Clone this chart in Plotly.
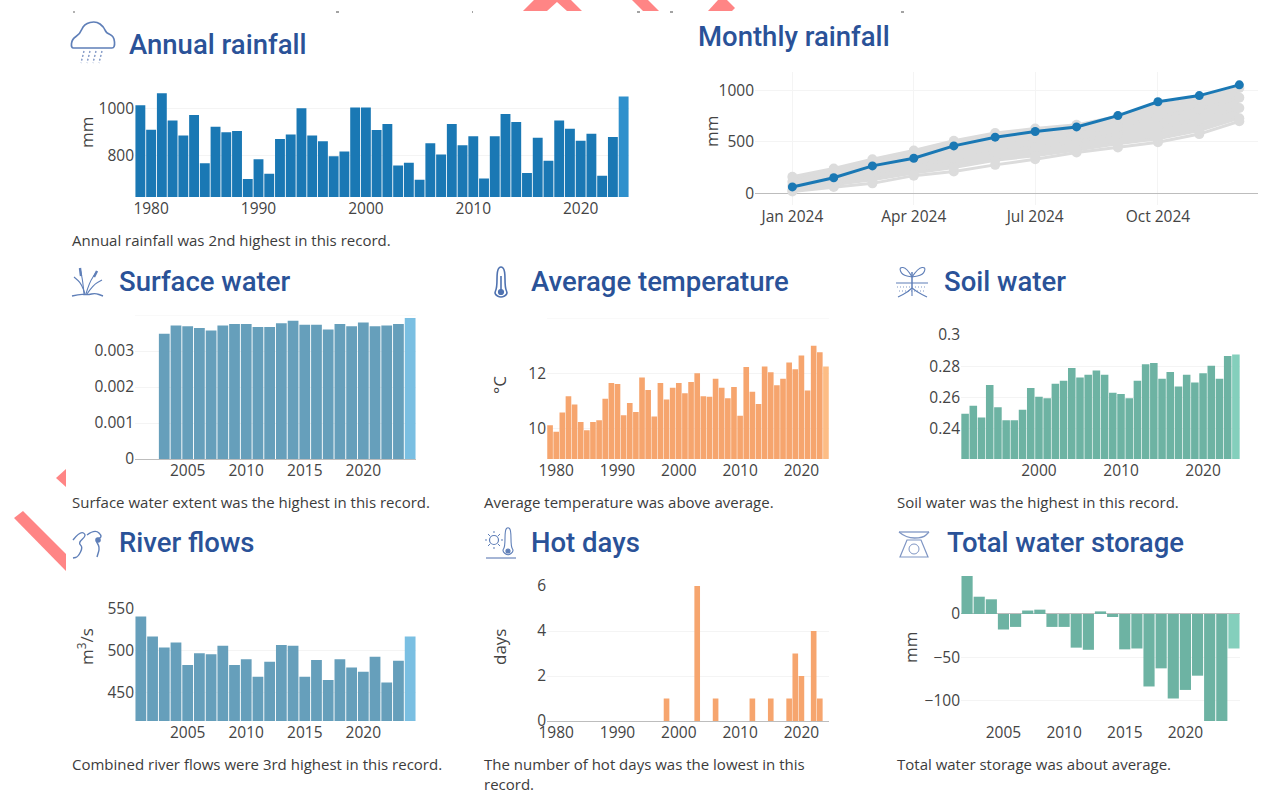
import plotly.graph_objects as go

W, H = 1263, 796

years_annual = list(range(1979, 2025))
annual_rain = [1013,909,1064,948,884,972,766,922,898,904,699,783,722,870,889,1000,884,860,796,816,1003,1003,908,933,757,769,696,851,804,933,843,881,702,881,976,942,725,875,777,948,913,862,892,713,878,1050]

months = ["2024-01-01","2024-02-01","2024-03-01","2024-04-01","2024-05-01","2024-06-01","2024-07-01","2024-08-01","2024-09-01","2024-10-01","2024-11-01","2024-12-01"]
monthly_2024 = [60,150,265,340,460,545,600,645,755,890,950,1055]
monthly_high = [160,240,330,415,510,585,630,665,750,860,930,1025]
monthly_mid_a = [110,190,270,340,430,490,540,580,650,740,820,930]
monthly_mid_b = [70,130,200,260,340,400,450,500,580,640,720,830]
monthly_low_b = [30,80,130,195,250,320,365,420,480,530,610,730]
monthly_low = [15,60,95,170,210,275,330,395,445,495,575,700]

years_surface = list(range(2003, 2025))
surface_water = [.00348,.00371,.00369,.00364,.00357,.00371,.00375,.00375,.00367,.00367,.00377,.00384,.00373,.00373,.0036,.00375,.00369,.00379,.00369,.00371,.00375,.00392]

years_temp = list(range(1979, 2025))
avg_temp = [10.11,9.87,10.57,11.16,10.86,10.22,9.92,10.22,10.29,11.07,11.64,11.6,10.47,10.91,10.59,11.84,11.39,10.42,11.64,11.04,11.47,11.64,11.27,11.68,11.99,11.16,11.14,11.79,11.47,11.09,11.49,10.45,12.22,11.32,10.88,12.24,12.03,11.56,11.79,12.38,12.14,12.64,11.37,12.99,12.76,12.24]

years_soil = list(range(1991, 2025))
soil_water = [.2495,.2546,.2471,.2679,.2537,.2454,.2454,.252,.2661,.2604,.2595,.2688,.2707,.2788,.2728,.2745,.2773,.2745,.263,.2621,.2595,.2707,.2812,.282,.272,.2762,.267,.2745,.2695,.2754,.2803,.272,.2866,.2875]

years_river = list(range(2001, 2025))
river_flows = [541,517,504,510,483,497,496,506,483,490,469,487,507,506,469,489,465,490,480,475,493,462,488,517]

years_hot = list(range(1979, 2025))
hot_days = [0,0,0,0,0,0,0,0,0,0,0,0,0,0,0,0,0,0,0,1,0,0,0,0,6,0,0,1,0,0,0,0,0,1,0,0,1,0,0,1,3,2,0,4,1,0]

years_tws = list(range(2002, 2025))
water_storage = [44,20,17,-18,-15,4,5,-15,-15,-39,-41.5,3,-3.5,-41,-40,-84,-63,-98,-88,-71.5,-124,-124,-40]

titles = ["Annual rainfall","Monthly rainfall","Surface water","Average temperature","Soil water","River flows","Hot days","Total water storage"]
captions = ["Annual rainfall was 2nd highest in this record.","Surface water extent was the highest in this record.","Average temperature was above average.","Soil water was the highest in this record.","Combined river flows were 3rd highest in this record.","The number of hot days was the lowest in this<br>record.","Total water storage was about average."]

BLUE, TICK, GRID = "#2a5298", "#444444", "#f4f4f4"
fig = go.Figure()
ann, shapes = [], []
counter = [0]

def X(v): return v / W
def Y(v): return 1 - v / H

def add_axes(left, right, top, bottom, xargs, yargs):
    counter[0] += 1
    n = counter[0]
    xbase = dict(domain=[X(left), X(right)], anchor=f"y{n}", showgrid=False, zeroline=False, automargin=False,
        tickfont=dict(family="Open Sans", size=15.5, color=TICK), ticks="")
    xbase.update(xargs)
    fig.layout[f"xaxis{n}"] = xbase
    fig.layout[f"yaxis{n}"] = dict(domain=[Y(bottom), Y(top)], anchor=f"x{n}", gridcolor=GRID, gridwidth=1, automargin=False,
        zeroline=True, zerolinecolor="#bdbdbd", zerolinewidth=1,
        tickfont=dict(family="Open Sans", size=15.5, color=TICK), **yargs)
    return f"x{n}", f"y{n}"

def ytitle(text, x, y):
    ann.append(dict(text=text, x=X(x), y=Y(y), xref="paper", yref="paper", xanchor="center", yanchor="middle", showarrow=False,
        textangle=-90, font=dict(family="Open Sans", size=17, color=TICK)))

def bars(xs, ys, col, last, box, xr, yr, top_grid=None, xd=10, **yextra):
    xa, ya = add_axes(*box, dict(range=xr, dtick=xd), dict(range=yr, **yextra))
    fig.add_trace(go.Bar(x=xs, y=ys, xaxis=xa, yaxis=ya, width=0.92,
        marker=dict(color=[col] * (len(xs) - 1) + [last], line=dict(width=0)), showlegend=False))
    if top_grid is not None:
        shapes.append(dict(type="line", xref=f"{xa} domain", x0=0, x1=1, yref=ya, y0=top_grid, y1=top_grid, line=dict(color=GRID, width=1), layer="below"))

def title(text, x, y):
    ann.append(dict(text=text, x=X(x), y=Y(y), xref="paper", yref="paper", xanchor="left", yanchor="middle", showarrow=False,
        font=dict(family="Roboto", size=27.5, color=BLUE, weight=500)))

def caption(text, x, y):
    ann.append(dict(text=text, x=X(x), y=Y(y), xref="paper", yref="paper", xanchor="left", yanchor="top", showarrow=False, align="left",
        font=dict(family="Open Sans", size=15, color="#3c3c3c")))

def path(points, color="#7f96c4", width=1.2, fill=None, close=False, dash=None):
    d = "M" + " L".join(f"{X(a):.5f},{Y(b):.5f}" for a, b in points) + (" Z" if close else "")
    line = dict(color=color if width else "rgba(0,0,0,0)", width=width or 0)
    if dash:
        line["dash"] = dash
    shapes.append(dict(type="path", path=d, xref="paper", yref="paper", layer="above", line=line, fillcolor=fill or "rgba(0,0,0,0)"))

def curve(points, color="#5f7fb8", width=1.3, close=False):
    pts = [(X(a), Y(b)) for a, b in points]
    mid = lambda p, q: ((p[0] + q[0]) / 2, (p[1] + q[1]) / 2)
    if close:
        s = mid(pts[-1], pts[0])
        d = f"M{s[0]:.5f},{s[1]:.5f}"
        for i, p in enumerate(pts):
            m = mid(p, pts[(i + 1) % len(pts)])
            d += f" Q{p[0]:.5f},{p[1]:.5f} {m[0]:.5f},{m[1]:.5f}"
        d += " Z"
    else:
        d = f"M{pts[0][0]:.5f},{pts[0][1]:.5f}"
        for i in range(1, len(pts) - 1):
            m = mid(pts[i], pts[i + 1])
            d += f" Q{pts[i][0]:.5f},{pts[i][1]:.5f} {m[0]:.5f},{m[1]:.5f}"
        d += f" L{pts[-1][0]:.5f},{pts[-1][1]:.5f}"
    shapes.append(dict(type="path", path=d, xref="paper", yref="paper", layer="above",
        line=dict(color=color, width=width), fillcolor="rgba(0,0,0,0)"))

def circle(cx, cy, r, color="#5f7fb8", width=1.2, fill=None):
    shapes.append(dict(type="circle", xref="paper", yref="paper", x0=X(cx-r), x1=X(cx+r), y0=Y(cy+r), y1=Y(cy-r),
        line=dict(color=color, width=width), fillcolor=fill or "rgba(0,0,0,0)"))

# bar panels
bars(years_annual, annual_rain, "#1a78b4", "#2f90cc", (135, 629, 93, 197), [1978.5, 2024.5], [623, 1065], tickvals=[800, 1000])
bars(years_surface, surface_water, "#669fbb", "#7abfe2", (135, 416, 315, 459), [2000.5, 2024.5], [0, .004], top_grid=.004, xd=5, tickvals=[0, .001, .002, .003], ticktext=["0", "0.001", "0.002", "0.003"])
bars(years_temp, avg_temp, "#f6a56e", "#fdbd85", (547, 829, 318, 459), [1978.5, 2024.5], [8.88, 14], top_grid=14, tickvals=[10, 12])
bars(years_soil, soil_water, "#6db3a3", "#84cfbc", (961, 1240, 335, 459), [1990.5, 2024.5], [.2205, .3], tickvals=[.24, .26, .28, .3], ticktext=["0.24", "0.26", "0.28", "0.3"])
bars(years_river, river_flows, "#669fbb", "#7abfe2", (135, 416, 609, 721), [2000.5, 2024.5], [416, 550], xd=5, tickvals=[450, 500, 550])
bars(years_hot, hot_days, "#f6a56e", "#fdbd85", (547, 829, 586, 721), [1978.5, 2024.5], [0, 6], tickvals=[0, 2, 4, 6])
bars(years_tws, water_storage, "#6db3a3", "#84cfbc", (961, 1240, 576, 721), [2001.5, 2024.5], [-124, 44], xd=5, tickvals=[-100, -50, 0], ticktext=["−100", "−50", "0"])

# monthly rainfall panel
xa, ya = add_axes(755, 1258, 72, 205, dict(type="date", range=["2023-12-04", "2024-12-15"], dtick="M3", tickformat="%b %Y", tick0="2024-01-01", showgrid=True, gridcolor=GRID),
    dict(range=[-116, 1180], tickvals=[0, 500, 1000]))
grey = "#dcdcdc"
for i, s in enumerate([monthly_low, monthly_low_b, monthly_mid_b, monthly_mid_a, monthly_high]):
    fig.add_trace(go.Scatter(x=months, y=s, xaxis=xa, yaxis=ya, mode="lines+markers", showlegend=False, cliponaxis=False,
        line=dict(color=grey, width=3), marker=dict(color=grey, size=10),
        fill="tonexty" if i > 1 else None, fillcolor=grey))
fig.add_trace(go.Scatter(x=months, y=monthly_2024, xaxis=xa, yaxis=ya, mode="lines+markers", showlegend=False, cliponaxis=False,
    line=dict(color="#1a78b4", width=3), marker=dict(color="#1a78b4", size=9)))

# y axis titles
ytitle("mm", 87, 132); ytitle("mm", 712, 132); ytitle("°C", 499, 385); ytitle("m<sup>3</sup>/s", 85, 647)
ytitle("days", 499, 647); ytitle("mm", 910, 648)

# headings and captions
title(titles[0], 127, 45); title(titles[1], 696, 37); title(titles[2], 117, 282)
title(titles[3], 529, 282); title(titles[4], 942, 282); title(titles[5], 117, 542)
title(titles[6], 529, 542); title(titles[7], 945, 542)
caption(captions[0], 70, 228); caption(captions[1], 70, 490); caption(captions[2], 482, 490)
caption(captions[3], 895, 490); caption(captions[4], 70, 752); caption(captions[5], 482, 752); caption(captions[6], 895, 752)

# decorative pink fragments
pink = "#ff8585"
for poly in [
    [(523,11),(534,0),(571,0),(582,11),(567,11),(557,2),(547,11)],
    [(632,0),(648,0),(659,11),(643,11)],
    [(708,11),(718,0),(727,0),(735,8),(732,11)],
    [(56,478),(66,469),(66,487)],
    [(14,518),(23,511),(66,554),(66,571)]]:
    path(poly, width=0, fill=pink, close=True)
# clipped text line above the panels
for a, b in [(73, 75), (336, 339), (472, 473), (637, 640), (670, 673), (901, 904)]:
    path([(a, 12), (b, 12)], color="#666666", width=1.2)

# icons
curve([(76,48),(71,48),(72,39),(80,34),(84,24),(96,21),(104,27),(106,33),(114,36),(115,48),(109,48)], close=True, width=1.7)
for cx in (84, 90, 96, 102):
    path([(cx, 51), (cx-3, 63)], color="#7f96c4", width=1.4, dash="2px,2px")
# reed
curve([(72,296),(80,294),(88,295),(95,293),(103,296)], width=1.4)
curve([(84,294),(83,282),(80,268)], width=1.1)
curve([(85,294),(82,284),(74,277)], width=1.1)
curve([(86,294),(89,283),(97,271)], width=1.1)
curve([(87,294),(93,285),(102,280)], width=1.1)
path([(80,268),(81,276)], color="#5f7fb8", width=2.4); path([(97,271),(94,277)], color="#5f7fb8", width=2.4)
# thermometer
curve([(497,270),(497,288),(494,294),(501,298),(508,294),(505,288),(505,270),(501,266)], color="#4f72b0", width=1.6, close=True)
circle(501, 292, 2.5, fill="#4f72b0", color="#4f72b0"); path([(501,276),(501,290)], color="#4f72b0", width=1.6)
# soil
path([(896,283),(928,283)], color="#5f7fb8")
path([(912,272),(912,288)], color="#5f7fb8", width=1.5)
curve([(912,277),(907,268),(899,267),(902,275),(912,277)], width=1.1)
curve([(912,277),(918,268),(926,267),(923,275),(912,277)], width=1.1)
path([(897,287),(927,287)], color="#7f96c4", width=1.2, dash="1px,2px")
path([(899,291),(925,291)], color="#7f96c4", width=1.2, dash="1px,2px")
curve([(912,288),(908,292),(898,297)], width=1.1); curve([(912,288),(917,292),(927,297)], width=1.1)
path([(912,288),(912,296)], color="#5f7fb8", width=1.1)
# river
curve([(73,540),(80,531),(87,535),(78,543),(83,547),(78,557),(73,558)], width=1.4)
curve([(87,535),(95,529),(103,537),(95,540),(100,547),(97,557)], width=1.4)
circle(98, 540, 2.2, fill="#5f7fb8")
# hot days
path([(486,558),(516,558)], color="#7f96c4", width=1.4)
circle(494, 540, 4.5)
for a, b, c, d in [(494,531,494,533),(494,547,494,549),(485,540,487,540),(501,540,503,540),(488,534,490,536),(498,544,500,546),(488,546,490,544),(498,536,500,534)]:
    path([(a,b),(c,d)], color="#5f7fb8", width=1)
curve([(505,530),(505,547),(502,551),(508,556),(514,551),(511,547),(511,530),(508,527)], width=1.1, close=True)
circle(508, 551, 2, fill="#5f7fb8")
# scales
curve([(899,532),(906,538),(923,538),(929,532)], color="#7f96c4", width=1.3)
path([(899,532),(929,532)], color="#7f96c4", width=1.3)
path([(907,540),(921,540),(928,557),(900,557)], close=True, color="#7f96c4")
circle(914, 549, 5, color="#7f96c4", width=1)

fig.update_layout(width=W, height=H, margin=dict(l=0, r=0, t=0, b=0), paper_bgcolor="white", plot_bgcolor="white",
    annotations=ann, shapes=shapes, showlegend=False, bargap=0.08)
fig.write_html("out.html", config={"displayModeBar": False},
    post_script="document.body.style.margin='0';document.documentElement.style.overflow='hidden';")
